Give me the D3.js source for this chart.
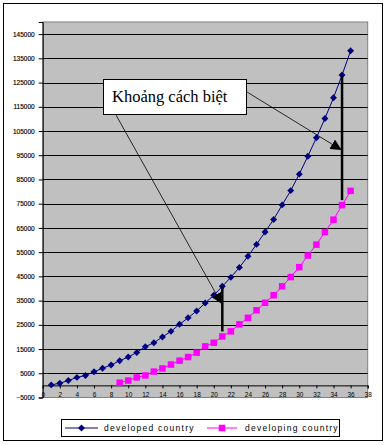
<!DOCTYPE html>
<html><head><meta charset="utf-8">
<script src="https://cdn.jsdelivr.net/npm/d3@7"></script>
<style>body{margin:0;background:#fff}svg{display:block}</style>
</head><body>
<script>
// ---- data ----
const developedX = d3.range(1, 37);
const developedY = [200, 900, 2000, 3300, 4100, 5600, 7100, 8400, 10200, 11700, 13600, 16000, 17600, 20000, 22300, 25200, 27900, 30700, 34000, 37200, 40900, 44600, 48700, 53300, 58200, 63300, 68500, 74500, 80400, 87200, 94600, 102200, 110200, 118700, 128100, 138100];
const developingX = d3.range(9, 37);
const developingY = [1100, 2000, 3300, 4100, 5700, 7000, 8600, 10200, 11700, 13500, 16100, 17600, 20200, 22300, 25200, 27900, 31000, 34100, 37200, 40900, 44700, 48800, 53600, 58100, 63300, 68400, 74400, 80300];
const xTicks = d3.range(0, 39, 2);
const yTicks = d3.range(-5000, 150000, 10000);
const seriesNames = ["developed country", "developing country"];
const annotationText = "Khoảng cách biệt";
const gapX = [21, 35];

const W = 387, H = 445;
const svg = d3.select("body").append("svg").attr("width", W).attr("height", H);
svg.append("rect").attr("x", 3.5).attr("y", 3.5).attr("width", 379).attr("height", 437)
  .attr("fill", "#fff").attr("stroke", "#000");

const x = d3.scaleLinear().domain([0, 38]).range([42.7, 367.7]);
const y = d3.scaleLinear().domain([-5000, 150000]).range([397.5, 22]);

// plot area
svg.append("rect").attr("x", x(0)).attr("y", y(150000)).attr("width", x(38) - x(0)).attr("height", y(-5000) - y(150000))
  .attr("fill", "#c0c0c0").attr("stroke", "#808080");

// grid lines
svg.append("g").selectAll("line").data(yTicks.filter(v => v > 0)).join("line")
  .attr("x1", x(0)).attr("x2", x(38)).attr("y1", d => Math.round(y(d)) + 0.5).attr("y2", d => Math.round(y(d)) + 0.5)
  .attr("stroke", "#000");

// y axis
const yAxis = d3.axisLeft(y).tickValues(yTicks).tickSize(4).tickFormat(d3.format("d"));
const gy = svg.append("g").attr("transform", `translate(${x(0)},0)`).call(yAxis);
gy.select(".domain").attr("stroke", "#000");
gy.selectAll("text").attr("font-family", "Liberation Sans, Arial, sans-serif").attr("font-size", 6.5).attr("dx", -1)
  .attr("stroke", "#000").attr("stroke-width", 0.15);

// x axis at value 0
const xAxis = d3.axisBottom(x).tickValues(xTicks).tickSize(3).tickFormat(d3.format("d"));
const gx = svg.append("g").attr("transform", `translate(0,${y(0)})`).call(xAxis);
gx.select(".domain").attr("stroke", "#000");
gx.selectAll("text").attr("font-family", "Liberation Sans, Arial, sans-serif").attr("font-size", 6.5).attr("dy", "0.9em");

// lines
const dev = developedX.map((d, i) => [d, developedY[i]]);
const dvg = developingX.map((d, i) => [d, developingY[i]]);
const line = d3.line().x(d => x(d[0])).y(d => y(d[1]));
svg.append("path").datum(dev).attr("d", line).attr("fill", "none").attr("stroke", "#000080").attr("stroke-width", 1);
svg.append("path").datum(dvg).attr("d", line).attr("fill", "none").attr("stroke", "#ff00ff").attr("stroke-width", 1);

const diamondPath = d3.symbol().type(d3.symbolSquare).size(24)();
svg.append("g").selectAll("path").data(dev).join("path")
  .attr("d", diamondPath)
  .attr("transform", d => `translate(${x(d[0])},${y(d[1])}) rotate(45)`)
  .attr("fill", "#000080");
svg.append("g").selectAll("rect").data(dvg).join("rect")
  .attr("x", d => x(d[0]) - 3.25).attr("y", d => y(d[1]) - 3.25).attr("width", 6.5).attr("height", 6.5)
  .attr("fill", "#ff00ff");

// annotation: vertical gap lines
const devAt = v => developedY[developedX.indexOf(v)];
const dvgAt = v => developingY[developingX.indexOf(v)];
gapX.forEach(g => {
  svg.append("line").attr("x1", x(g)).attr("x2", x(g))
    .attr("y1", y(devAt(g))).attr("y2", y(dvgAt(g)) - 5)
    .attr("stroke", "#000").attr("stroke-width", 2.5);
});

// arrows
svg.append("defs").append("marker").attr("id", "arr").attr("viewBox", "0 0 10 10")
  .attr("refX", 10).attr("refY", 5).attr("markerWidth", 11).attr("markerHeight", 11)
  .attr("markerUnits", "userSpaceOnUse").attr("orient", "auto")
  .append("path").attr("d", "M0,0L10,5L0,10Z").attr("fill", "#000");
const arrows = [[116, 115, x(21) - 0.5, 304], [247, 92, x(35) - 0.5, 150]];
arrows.forEach(a => {
  svg.append("line").attr("x1", a[0]).attr("y1", a[1]).attr("x2", a[2]).attr("y2", a[3])
    .attr("stroke", "#000").attr("stroke-width", 0.8).attr("marker-end", "url(#arr)");
});

// text box
svg.append("rect").attr("x", 103.5).attr("y", 79.5).attr("width", 143).attr("height", 35)
  .attr("fill", "#fff").attr("stroke", "#000");
svg.append("text").attr("x", 112).attr("y", 102).text(annotationText)
  .attr("font-family", "Liberation Serif, Times New Roman, serif").attr("font-size", 16.5);

// legend
svg.append("rect").attr("x", 61.5).attr("y", 419.5).attr("width", 278).attr("height", 17)
  .attr("fill", "#fff").attr("stroke", "#000");
const ly = 428;
svg.append("line").attr("x1", 65).attr("x2", 98).attr("y1", ly).attr("y2", ly).attr("stroke", "#000080");
svg.append("path").attr("d", diamondPath)
  .attr("transform", `translate(81.5,${ly}) rotate(45)`).attr("fill", "#000080");
svg.append("line").attr("x1", 207).attr("x2", 237).attr("y1", ly).attr("y2", ly).attr("stroke", "#ff00ff");
svg.append("rect").attr("x", 218.75).attr("y", ly - 3.25).attr("width", 6.5).attr("height", 6.5).attr("fill", "#ff00ff");
[[104, seriesNames[0]], [245, seriesNames[1]]].forEach(t => {
  svg.append("text").attr("x", t[0]).attr("y", ly + 3).text(t[1])
    .attr("font-family", "Liberation Sans, Arial, sans-serif").attr("font-size", 8.5)
    .attr("letter-spacing", 1.25);
});
</script>
</body></html>
